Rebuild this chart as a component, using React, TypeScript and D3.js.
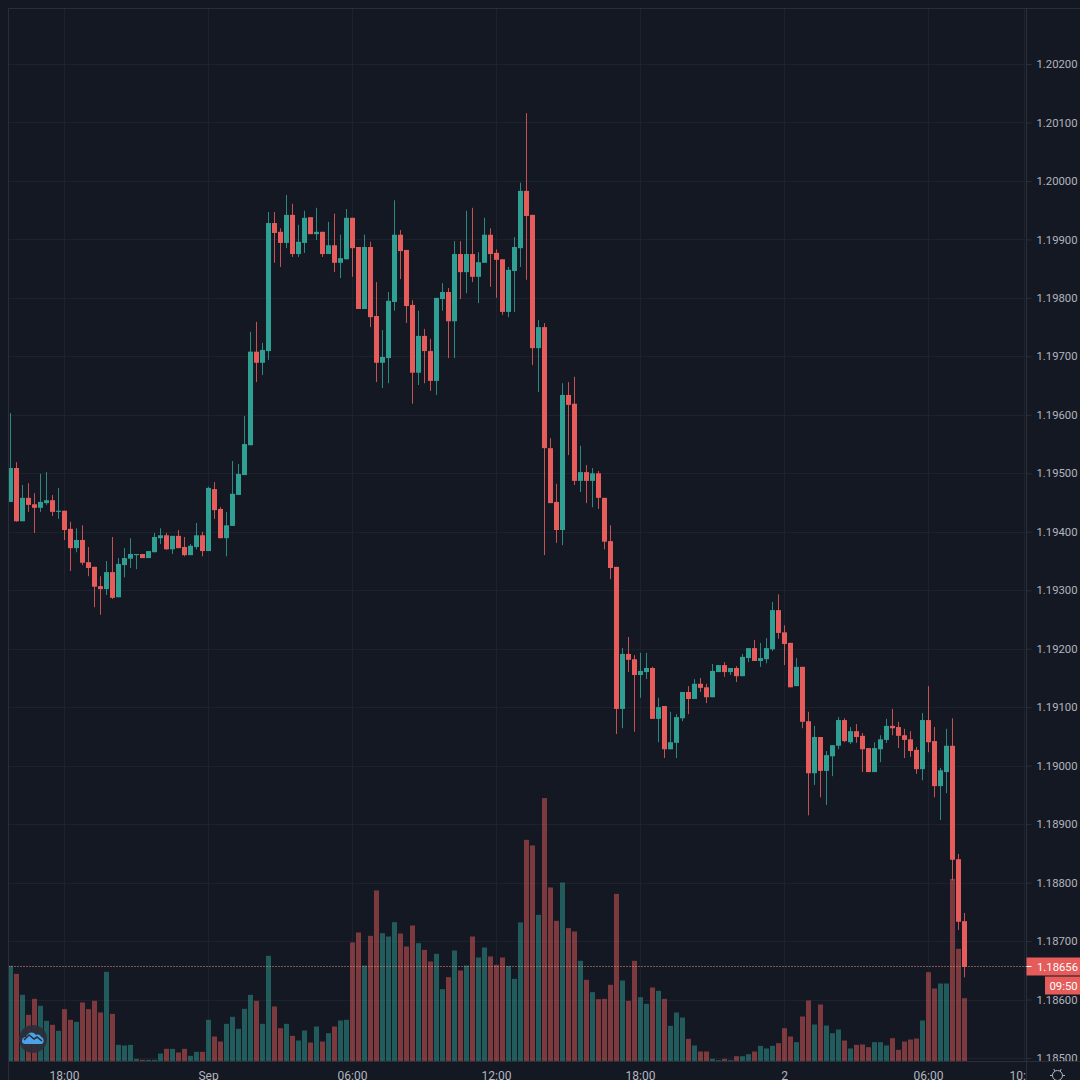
import { useEffect, useRef } from "react";
import * as d3 from "d3";

const opens = [
  1.19451, 1.19509, 1.19418, 1.19458, 1.19447, 1.19441, 1.19449, 1.19454, 1.19434, 1.19436,
  1.19405, 1.19372, 1.19386, 1.19348, 1.1934, 1.19307, 1.19302, 1.19331, 1.19288, 1.19343,
  1.19354, 1.1936, 1.19362, 1.19355, 1.19365, 1.19389, 1.19394, 1.1937, 1.19393, 1.19374,
  1.1936, 1.19374, 1.19394, 1.19367, 1.19473, 1.19439, 1.19389, 1.1941, 1.19463, 1.19497,
  1.19548, 1.19708, 1.19689, 1.19709, 1.19928, 1.19913, 1.19894, 1.19942, 1.19875, 1.19894,
  1.19938, 1.19909, 1.19913, 1.19875, 1.1989, 1.1986, 1.19866, 1.19937, 1.19887, 1.19781,
  1.19887, 1.19769, 1.19689, 1.19697, 1.19793, 1.19908, 1.19882, 1.19788, 1.19672, 1.19735,
  1.19709, 1.19658, 1.19798, 1.1981, 1.1976, 1.19875, 1.19844, 1.19875, 1.19836, 1.1986,
  1.19908, 1.19877, 1.19866, 1.19776, 1.19846, 1.19885, 1.19983, 1.19942, 1.19714, 1.1975,
  1.19543, 1.19451, 1.19403, 1.19634, 1.19619, 1.19487, 1.19502, 1.19487, 1.195, 1.19458,
  1.19384, 1.1934, 1.19097, 1.19191, 1.19182, 1.19155, 1.1916, 1.19167, 1.1908, 1.19102,
  1.19028, 1.19039, 1.19081, 1.19126, 1.19114, 1.1914, 1.19134, 1.19117, 1.1916, 1.19172,
  1.1916, 1.19167, 1.19153, 1.19184, 1.19201, 1.19179, 1.19182, 1.19199, 1.19266, 1.19228,
  1.1921, 1.19136, 1.19169, 1.19076, 1.18987, 1.19049, 1.18991, 1.19016, 1.19034, 1.19078,
  1.1904, 1.19059, 1.19051, 1.1903, 1.18989, 1.19028, 1.19044, 1.19068, 1.19066, 1.19052,
  1.19045, 1.19027, 1.18994, 1.19078, 1.19042, 1.18965, 1.18989, 1.19034, 1.1884, 1.18734,
];

const closes = [
  1.19509, 1.19418, 1.19458, 1.19446, 1.19441, 1.19451, 1.19454, 1.19434, 1.19436, 1.19403,
  1.19372, 1.19386, 1.19347, 1.19338, 1.19306, 1.19302, 1.19331, 1.19287, 1.19345, 1.19355,
  1.19362, 1.19362, 1.19355, 1.19367, 1.19391, 1.19394, 1.1937, 1.19393, 1.19372, 1.1936,
  1.19376, 1.19394, 1.19367, 1.19475, 1.19437, 1.19389, 1.19411, 1.19465, 1.19499, 1.1955,
  1.19708, 1.19689, 1.19711, 1.19928, 1.19911, 1.19894, 1.19942, 1.19875, 1.19896, 1.19937,
  1.19909, 1.19913, 1.19875, 1.1989, 1.1986, 1.19868, 1.19937, 1.19885, 1.19781, 1.19887,
  1.19767, 1.19689, 1.19699, 1.19795, 1.19908, 1.1988, 1.19786, 1.19672, 1.19735, 1.19709,
  1.19658, 1.198, 1.1981, 1.1976, 1.19875, 1.19844, 1.19875, 1.19836, 1.19861, 1.19908,
  1.19875, 1.19865, 1.19776, 1.19848, 1.19887, 1.19983, 1.1994, 1.19714, 1.1975, 1.19543,
  1.19449, 1.19403, 1.19634, 1.19617, 1.19487, 1.19502, 1.19487, 1.195, 1.19458, 1.19383,
  1.19338, 1.19097, 1.19191, 1.19181, 1.19155, 1.19162, 1.19167, 1.1908, 1.191, 1.19028,
  1.1904, 1.19083, 1.19126, 1.19114, 1.1914, 1.19133, 1.19117, 1.19162, 1.19172, 1.1916,
  1.19167, 1.19153, 1.19186, 1.19201, 1.19179, 1.19184, 1.19201, 1.19266, 1.19227, 1.19208,
  1.19134, 1.19169, 1.19075, 1.18987, 1.19049, 1.18991, 1.19018, 1.19035, 1.19078, 1.19042,
  1.19059, 1.19049, 1.19028, 1.18989, 1.1903, 1.19045, 1.19068, 1.19064, 1.19051, 1.19044,
  1.19025, 1.18994, 1.19078, 1.1904, 1.18965, 1.18992, 1.19034, 1.18839, 1.18733, 1.18656,
];

const highs = [
  1.19603, 1.19519, 1.1948, 1.19483, 1.19466, 1.19499, 1.19502, 1.19463, 1.19475, 1.19436,
  1.19417, 1.19406, 1.19411, 1.19374, 1.1934, 1.19324, 1.1935, 1.19391, 1.19355, 1.19372,
  1.19389, 1.19362, 1.19362, 1.19367, 1.19398, 1.19406, 1.19398, 1.19393, 1.19403, 1.19391,
  1.19379, 1.19415, 1.194, 1.19477, 1.19485, 1.19442, 1.19434, 1.19521, 1.19516, 1.19598,
  1.19742, 1.19759, 1.19723, 1.19947, 1.19947, 1.19919, 1.19976, 1.19961, 1.19925, 1.19949,
  1.19938, 1.19954, 1.19913, 1.1993, 1.19944, 1.19908, 1.19952, 1.19937, 1.19887, 1.19908,
  1.19896, 1.19827, 1.19745, 1.1981, 1.19967, 1.19916, 1.19882, 1.19796, 1.19778, 1.19747,
  1.1973, 1.198, 1.19825, 1.19817, 1.19897, 1.19897, 1.19949, 1.19954, 1.19878, 1.19937,
  1.19919, 1.19883, 1.19866, 1.19853, 1.19904, 1.19997, 1.20116, 1.19942, 1.19762, 1.19757,
  1.1956, 1.19482, 1.19654, 1.19656, 1.19665, 1.19547, 1.19514, 1.19509, 1.19504, 1.19458,
  1.19411, 1.1934, 1.19201, 1.1922, 1.19189, 1.19193, 1.19193, 1.19169, 1.19116, 1.19102,
  1.19092, 1.19088, 1.19126, 1.19136, 1.19148, 1.1915, 1.1914, 1.19174, 1.19172, 1.19177,
  1.19167, 1.1917, 1.19191, 1.19201, 1.19215, 1.1921, 1.19218, 1.1928, 1.19293, 1.1924,
  1.1921, 1.19184, 1.19169, 1.19092, 1.19068, 1.19049, 1.19025, 1.19035, 1.19083, 1.19081,
  1.19066, 1.19071, 1.19056, 1.1903, 1.1904, 1.19052, 1.1908, 1.19097, 1.19075, 1.19063,
  1.19059, 1.19032, 1.1909, 1.19136, 1.19066, 1.18996, 1.19063, 1.19081, 1.18849, 1.18748,
];

const lows = [
  1.19451, 1.19417, 1.19418, 1.19434, 1.19398, 1.19434, 1.19446, 1.19427, 1.19422, 1.19386,
  1.19333, 1.19365, 1.19343, 1.19324, 1.19271, 1.19258, 1.19292, 1.19285, 1.19288, 1.19322,
  1.19338, 1.19336, 1.19355, 1.19355, 1.19365, 1.19379, 1.19369, 1.19362, 1.19372, 1.19358,
  1.1936, 1.1937, 1.19358, 1.19367, 1.19422, 1.19389, 1.19358, 1.1941, 1.19463, 1.19497,
  1.19548, 1.19656, 1.19668, 1.19694, 1.1986, 1.19853, 1.19885, 1.1987, 1.1987, 1.19877,
  1.19909, 1.19899, 1.1987, 1.19875, 1.19844, 1.19834, 1.19866, 1.19836, 1.19781, 1.19781,
  1.1975, 1.19656, 1.19646, 1.19654, 1.19778, 1.19832, 1.19757, 1.19619, 1.19651, 1.19654,
  1.19641, 1.19634, 1.19778, 1.19697, 1.19697, 1.19798, 1.19808, 1.19827, 1.19791, 1.1986,
  1.19819, 1.198, 1.19771, 1.19767, 1.19776, 1.19853, 1.19831, 1.19685, 1.19639, 1.1936,
  1.19449, 1.19381, 1.19377, 1.19531, 1.1948, 1.19468, 1.19449, 1.19442, 1.19439, 1.1937,
  1.19319, 1.19054, 1.19064, 1.1916, 1.19058, 1.19116, 1.19148, 1.1908, 1.1904, 1.19013,
  1.19028, 1.19013, 1.19076, 1.19088, 1.19114, 1.19126, 1.19107, 1.19117, 1.1916, 1.19152,
  1.19155, 1.19143, 1.19153, 1.19177, 1.19179, 1.19169, 1.19175, 1.19196, 1.19217, 1.19172,
  1.19134, 1.19136, 1.19064, 1.18915, 1.18967, 1.18946, 1.18933, 1.18982, 1.19028, 1.1904,
  1.19037, 1.19039, 1.18989, 1.18989, 1.18989, 1.19006, 1.19039, 1.19052, 1.1903, 1.19013,
  1.19015, 1.18986, 1.18975, 1.19023, 1.18946, 1.18907, 1.18953, 1.18804, 1.18719, 1.18638,
];

// tick volume
const volumes = [
  287, 263, 200, 140, 188, 167, 122, 110, 92, 157, 125, 119, 177, 157, 182, 147, 269, 143, 50, 48,
  50, 8, 5, 5, 5, 24, 38, 38, 27, 38, 17, 29, 29, 125, 75, 60, 113, 134, 98, 158,
  200, 182, 113, 317, 165, 100, 113, 77, 63, 93, 57, 105, 60, 85, 105, 123, 125, 357, 387, 288,
  377, 513, 385, 375, 418, 384, 345, 408, 355, 335, 300, 323, 217, 253, 333, 273, 288, 375, 312, 342,
  315, 290, 312, 287, 248, 417, 665, 648, 440, 790, 522, 422, 537, 400, 390, 302, 245, 208, 187, 188,
  230, 503, 243, 182, 302, 193, 173, 222, 212, 188, 107, 147, 132, 68, 48, 30, 30, 8, 4, 8,
  4, 16, 16, 22, 30, 47, 39, 47, 55, 100, 75, 58, 135, 183, 111, 171, 108, 85, 96, 63,
  39, 50, 51, 43, 58, 58, 48, 70, 35, 60, 66, 69, 123, 268, 219, 234, 234, 548, 338, 190,
];

const priceTicks = [
  1.202, 1.201, 1.2, 1.199, 1.198, 1.197, 1.196, 1.195, 1.194, 1.193, 1.192, 1.191, 1.19, 1.189,
  1.188, 1.187, 1.186, 1.185,
];
const timeTickIndex = [9, 33, 57, 81, 105, 129, 153, 169];
const timeTickLabels = ["18:00", "Sep", "06:00", "12:00", "18:00", "2", "06:00", "10:00"];

const lastPrice = 1.18656;
const countdown = "09:50";

const BG = "#141823";
const UP = "#2f9e93";
const DOWN = "#e55c5a";
const GRID = "#1e222d";
const BORDER = "#2a2e39";
const TEXT = "#b2b5be";
const FONT = "Roboto, sans-serif";

export default function App() {
  const svgRef = useRef<SVGSVGElement>(null);

  useEffect(() => {
    const el = svgRef.current;
    if (!el) return;
    const svg = d3.select(el);
    svg.selectAll("*").remove();

    const left = 8.5;
    const right = 1026.5;
    const bottom = 1061.5;

    const x = d3.scaleLinear().domain([0, 159]).range([10.5, 964.5]);
    const y = d3.scaleLinear().domain([1.202, 1.185]).range([64, 1058]);
    const yVol = d3.scaleLinear().domain([0, 800]).range([bottom, bottom - 266.7]);
    const index = d3.range(opens.length);
    const bodyW = 5;

    svg.append("rect").attr("width", 1080).attr("height", 1080).attr("fill", BG);

    // Grid
    const grid = svg.append("g").attr("stroke", GRID).attr("stroke-width", 1);
    grid.selectAll("line.h").data(priceTicks).join("line").attr("class", "h")
      .attr("x1", left).attr("x2", right)
      .attr("y1", (d) => Math.round(y(d)) + 0.5).attr("y2", (d) => Math.round(y(d)) + 0.5);
    grid.selectAll("line.v").data(timeTickIndex).join("line").attr("class", "v")
      .attr("y1", 8).attr("y2", bottom)
      .attr("x1", (d) => x(d)).attr("x2", (d) => x(d));

    // Volume bars
    svg.append("g").selectAll("rect").data(index).join("rect")
      .attr("x", (i) => x(i) - bodyW / 2)
      .attr("width", bodyW)
      .attr("y", (i) => yVol(volumes[i]))
      .attr("height", (i) => bottom - yVol(volumes[i]))
      .attr("fill", (i) => (closes[i] >= opens[i] ? UP : DOWN))
      .attr("fill-opacity", 0.5);

    // Candles
    const candles = svg.append("g");
    candles.selectAll("line").data(index).join("line")
      .attr("x1", (i) => x(i)).attr("x2", (i) => x(i))
      .attr("y1", (i) => y(highs[i])).attr("y2", (i) => y(lows[i]))
      .attr("stroke", (i) => (closes[i] >= opens[i] ? UP : DOWN))
      .attr("stroke-opacity", 0.85)
      .attr("stroke-width", 1);
    candles.selectAll("rect").data(index).join("rect")
      .attr("x", (i) => x(i) - bodyW / 2)
      .attr("width", bodyW)
      .attr("y", (i) => y(Math.max(opens[i], closes[i])))
      .attr("height", (i) => Math.max(1, Math.abs(y(opens[i]) - y(closes[i]))))
      .attr("fill", (i) => (closes[i] >= opens[i] ? UP : DOWN));

    // Last price line
    const lastY = Math.floor(y(lastPrice)) + 0.5;
    svg.append("line")
      .attr("x1", left).attr("x2", right)
      .attr("y1", lastY).attr("y2", lastY)
      .attr("stroke", "#f0907f").attr("stroke-width", 1).attr("stroke-dasharray", "1 2");

    // Price scale, labels cut off where the time scale starts
    const priceAxis = svg.append("g")
      .attr("transform", `translate(${right},0)`)
      .call(
        d3.axisRight(y).tickValues(priceTicks).tickSize(5).tickPadding(5)
          .tickFormat((d) => d3.format(".5f")(d as number))
      );
    priceAxis.select(".domain").remove();
    priceAxis.selectAll("line").attr("stroke", BORDER);
    priceAxis.selectAll("text")
      .attr("fill", TEXT).attr("font-family", FONT).attr("font-size", 11.3);

    // Time scale
    const timeAxis = svg.append("g")
      .attr("transform", `translate(-0.5,${bottom})`)
      .call(
        d3.axisBottom(x).tickValues(timeTickIndex).tickSize(0).tickPadding(10)
          .tickFormat((_, i) => timeTickLabels[i])
      );
    timeAxis.select(".domain").remove();
    timeAxis.selectAll("text")
      .attr("fill", TEXT).attr("font-family", FONT).attr("font-size", 12);

    // Cover what runs past the scale corner, then the frame
    svg.append("rect").attr("x", right).attr("y", bottom)
      .attr("width", 1080 - right).attr("height", 1080 - bottom).attr("fill", BG);
    svg.append("path")
      .attr("d", `M${left},1080V${left}H1080M${right},${left}V1080M${left},${bottom}H1080`)
      .attr("fill", "none").attr("stroke", BORDER);

    // Last price tag and countdown
    const tagY = lastY;
    svg.append("rect").attr("x", right).attr("y", tagY - 9)
      .attr("width", 1080 - right).attr("height", 18).attr("fill", DOWN);
    svg.append("line").attr("x1", right).attr("x2", right + 5).attr("y1", tagY).attr("y2", tagY)
      .attr("stroke", "#fff");
    svg.append("text").attr("x", 1037).attr("y", tagY + 4)
      .attr("fill", "#fff").attr("font-family", FONT).attr("font-size", 11.3)
      .text(d3.format(".5f")(lastPrice));
    svg.append("rect").attr("x", 1045).attr("y", tagY + 10)
      .attr("width", 35).attr("height", 18).attr("fill", DOWN);
    svg.append("text").attr("x", 1049.5).attr("y", tagY + 23.5)
      .attr("fill", "#fff").attr("font-family", FONT).attr("font-size", 11.3)
      .text(countdown);

    // Logo
    const logo = svg.append("g").attr("transform", "translate(33,1039)");
    logo.append("circle").attr("r", 14).attr("fill", "#2a2e39").attr("fill-opacity", 0.9);
    logo.append("path")
      .attr("d", "M-11,2C-11,-1-9,-2-7,-2C-5,-7 0,-8 3,-4C5,-5 8,-4 8,-2C11,-2 12,5 8,5H-8C-10,5-11,4-11,2Z")
      .attr("fill", "#4aa3e8");
    logo.append("path")
      .attr("d", "M-9,1L-4,-4L1,0L4,-2L9,2")
      .attr("fill", "none").attr("stroke", "#2a2e39").attr("stroke-width", 1.6);

    // Settings gear
    const gear = svg.append("g").attr("transform", "translate(1057.5,1075.5)")
      .attr("fill", "none").attr("stroke", TEXT);
    gear.append("circle").attr("r", 5);
    gear.selectAll("line").data(d3.range(6)).join("line")
      .attr("x1", (d) => 5 * Math.cos((d * Math.PI) / 3))
      .attr("y1", (d) => 5 * Math.sin((d * Math.PI) / 3))
      .attr("x2", (d) => 7.5 * Math.cos((d * Math.PI) / 3))
      .attr("y2", (d) => 7.5 * Math.sin((d * Math.PI) / 3));
  }, []);

  return (
    <svg
      ref={svgRef}
      width={1080}
      height={1080}
      style={{ position: "absolute", left: 0, top: 0, display: "block" }}
    />
  );
}
